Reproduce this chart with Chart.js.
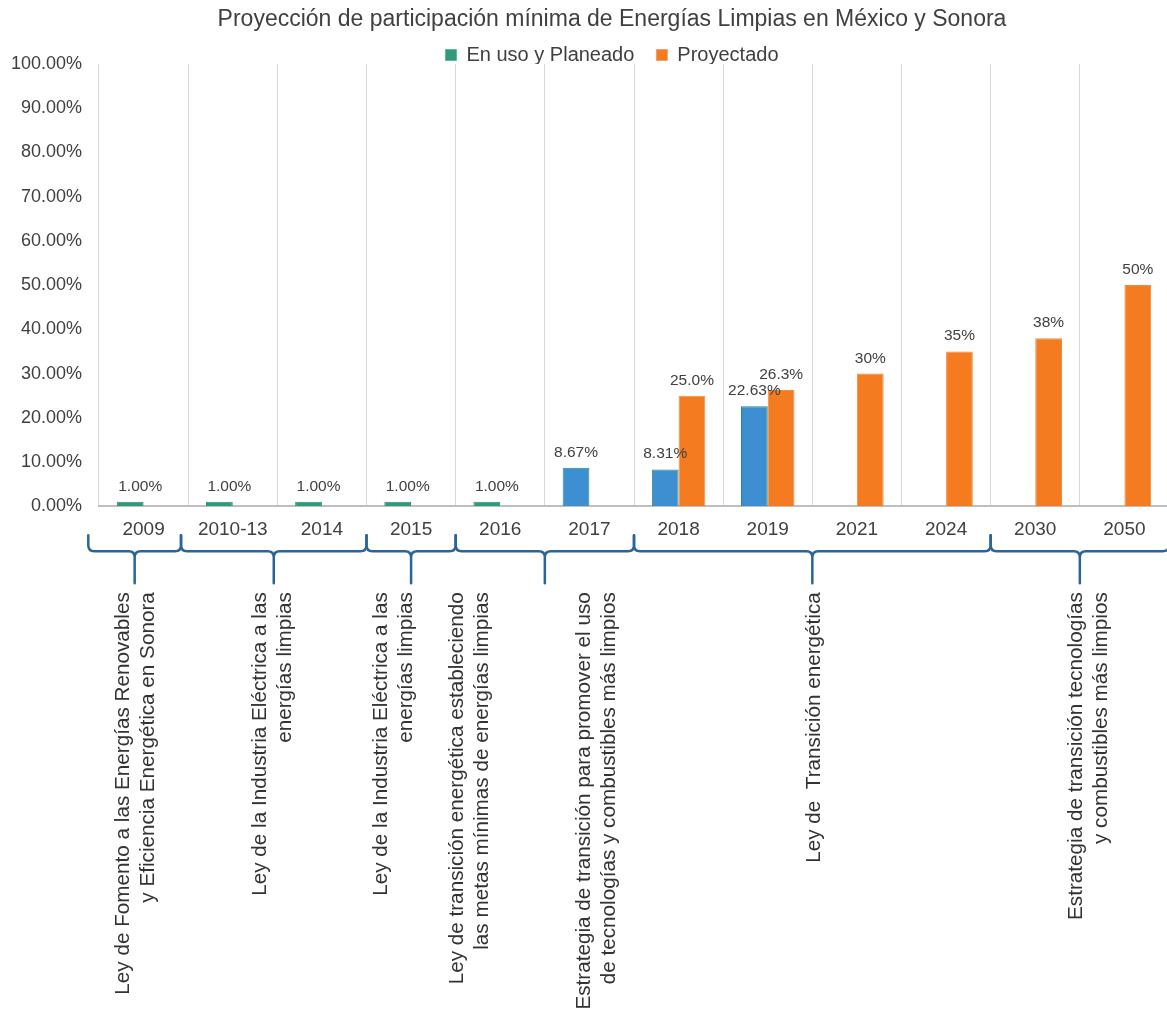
<!DOCTYPE html>
<html lang="es">
<head>
  <meta charset="UTF-8">
  <title>Proyección de participación mínima de Energías Limpias en México y Sonora</title>
  <script src="https://cdn.jsdelivr.net/npm/chart.js"></script>
  <style>
    html, body {
      margin: 0;
      padding: 0;
      background: #ffffff;
      overflow: hidden;
    }
    #energiasChart {
      display: block;
    }
  </style>
</head>
<body>

<canvas id="energiasChart" width="1169" height="1010"></canvas>

<script>
const FUENTE = '"Liberation Sans", Arial, Helvetica, sans-serif';
Chart.defaults.font.family = FUENTE;

const years = ['2009', '2010-13', '2014', '2015', '2016', '2017', '2018', '2019', '2021', '2024', '2030', '2050'];

// participación de energías limpias (%)
const enUsoPlaneado = [1.00, 1.00, 1.00, 1.00, 1.00, 8.67, 8.31, 22.63, null, null, null, null];
const proyectado    = [null, null, null, null, null, null, 25.0, 26.3, 30, 35, 38, 50];

// decimales con que se rotula cada barra
const decimalesPlaneado   = [2, 2, 2, 2, 2, 2, 2, 2, null, null, null, null];
const decimalesProyectado = [null, null, null, null, null, null, 1, 1, 0, 0, 0, 0];

// llaves bajo el eje: bordes en unidades de categoría (0 = borde izquierdo de 2009)
const bordesLlaves = [-0.12, 0.92, 3, 4, 6, 10, 12];

// centro de cada texto de ley, en unidades de categoría
const posicionLeyes = [-0.09, 1.45, 2.81, 3.66, 5.08, 7.52, 10.6];
const textosLeyes = [
  ['Ley de Fomento a las Energías Renovables', 'y Eficiencia Energética en Sonora'],
  ['Ley de la Industria Eléctrica a las', 'energías limpias'],
  ['Ley de la Industria Eléctrica a las', 'energías limpias'],
  ['Ley de transición energética estableciendo', 'las metas mínimas de energías limpias'],
  ['Estrategia de transición para promover el uso', 'de tecnologías y combustibles más limpios'],
  ['Ley de  Transición energética'],
  ['Estrategia de transición tecnologías', 'y combustibles más limpios']
];

const VERDE = '#2f9a7b';
const AZUL = '#3d8fd1';
const NARANJA = '#f47b20';
const coloresPlaneado = [VERDE, VERDE, VERDE, VERDE, VERDE, AZUL, AZUL, AZUL, AZUL, AZUL, AZUL, AZUL];

// las etiquetas del eje Y ocupan el margen izquierdo, fuera de su caja
const margenEjeY = {
  id: 'margenEjeY',
  afterLayout(chart) {
    chart.scales.y.left = 0;
  }
};

// porcentaje encima de cada barra
const etiquetasValor = {
  id: 'etiquetasValor',
  afterDatasetsDraw(chart) {
    const ctx = chart.ctx;
    ctx.save();
    ctx.font = '15.5px ' + FUENTE;
    ctx.fillStyle = '#404040';
    ctx.textAlign = 'center';
    ctx.textBaseline = 'alphabetic';
    chart.data.datasets.forEach((ds, i) => {
      const meta = chart.getDatasetMeta(i);
      ds.data.forEach((v, j) => {
        if (v === null) return;
        const bar = meta.data[j];
        // las barras del 1% llevan el rótulo corrido hacia el centro de la categoría
        const corrimiento = v < 2 ? 10 : 0;
        ctx.fillText(v.toFixed(ds.decimales[j]) + '%', bar.x + corrimiento, bar.y - 11);
      });
    });
    ctx.restore();
  }
};

// llaves y textos de las leyes debajo de los años
const llavesLeyes = {
  id: 'llavesLeyes',
  afterDraw(chart) {
    const {ctx, chartArea} = chart;
    const x = chart.scales.x;
    const borde = e => x.getPixelForValue(e - 0.5);
    const yLinea = chartArea.bottom + 45;
    const yPunta = chartArea.bottom + 29;
    const yCola = chartArea.bottom + 77;
    const r = 6;

    ctx.save();
    ctx.strokeStyle = '#2a6498';
    ctx.lineWidth = 2.5;
    ctx.lineJoin = 'round';
    ctx.lineCap = 'round';
    for (let k = 0; k < bordesLlaves.length - 1; k++) {
      const a = borde(bordesLlaves[k]);
      const b = borde(bordesLlaves[k + 1]);
      const m = (a + b) / 2;
      ctx.beginPath();
      ctx.moveTo(a, yPunta);
      ctx.lineTo(a, yLinea - r);
      ctx.quadraticCurveTo(a, yLinea, a + r, yLinea);
      ctx.lineTo(m - r, yLinea);
      ctx.quadraticCurveTo(m, yLinea, m, yLinea + r);
      ctx.lineTo(m, yCola);
      ctx.moveTo(m, yLinea + r);
      ctx.quadraticCurveTo(m, yLinea, m + r, yLinea);
      ctx.lineTo(b - r, yLinea);
      ctx.quadraticCurveTo(b, yLinea, b, yLinea - r);
      ctx.lineTo(b, yPunta);
      ctx.stroke();
    }

    ctx.fillStyle = '#333333';
    ctx.font = '20.7px ' + FUENTE;
    ctx.textAlign = 'right';
    ctx.textBaseline = 'middle';
    const interlinea = 25;
    const yTexto = chartArea.bottom + 86;
    textosLeyes.forEach((lineas, k) => {
      const cx = x.getPixelForValue(posicionLeyes[k]);
      lineas.forEach((texto, n) => {
        const lx = cx + (n - (lineas.length - 1) / 2) * interlinea;
        ctx.save();
        ctx.translate(lx, yTexto);
        ctx.rotate(-Math.PI / 2);
        ctx.fillText(texto, 0, 0);
        ctx.restore();
      });
    });
    ctx.restore();
  }
};

const energiasChart = new Chart(document.getElementById('energiasChart'), {
  type: 'bar',
  data: {
    labels: years,
    datasets: [
      {
        label: 'En uso y Planeado',
        data: enUsoPlaneado,
        decimales: decimalesPlaneado,
        backgroundColor: coloresPlaneado,
        borderColor: '#2b8a74',
        borderWidth: 1
      },
      {
        label: 'Proyectado',
        data: proyectado,
        decimales: decimalesProyectado,
        backgroundColor: NARANJA,
        borderColor: '#f28b40',
        borderWidth: 1
      }
    ]
  },
  options: {
    responsive: false,
    animation: false,
    datasets: {
      bar: { categoryPercentage: 0.6, barPercentage: 1.0 }
    },
    layout: { padding: { left: 55, right: 0, top: 0, bottom: 457 } },
    plugins: {
      title: {
        display: true,
        text: 'Proyección de participación mínima de Energías Limpias en México y Sonora',
        color: '#404040',
        font: { size: 23, weight: 'normal' },
        padding: { top: 6, bottom: -10.6 }
      },
      legend: {
        position: 'top',
        maxHeight: 41,
        labels: {
          color: '#404040',
          font: { size: 20 },
          boxWidth: 11,
          boxHeight: 11,
          padding: 22,
          generateLabels: chart => chart.data.datasets.map((ds, i) => ({
            text: ds.label,
            fillStyle: i === 0 ? VERDE : NARANJA,
            strokeStyle: i === 0 ? '#5fb89a' : '#f0a070',
            lineWidth: 1,
            hidden: false,
            datasetIndex: i,
            fontColor: '#404040'
          }))
        }
      },
      tooltip: { enabled: false }
    },
    scales: {
      x: {
        grid: { color: '#d9d9d9', drawTicks: false },
        border: { color: '#bfbfbf', width: 2 },
        ticks: { color: '#404040', font: { size: 19 }, padding: 12 }
      },
      y: {
        min: 0,
        max: 100,
        afterFit: scale => { scale.width = 44; },
        grid: { display: false, drawTicks: false },
        border: { display: false },
        ticks: {
          stepSize: 10,
          padding: 17,
          color: '#404040',
          font: { size: 18 },
          callback: v => v.toFixed(2) + '%'
        }
      }
    }
  },
  plugins: [margenEjeY, etiquetasValor, llavesLeyes]
});
</script>

</body>
</html>
